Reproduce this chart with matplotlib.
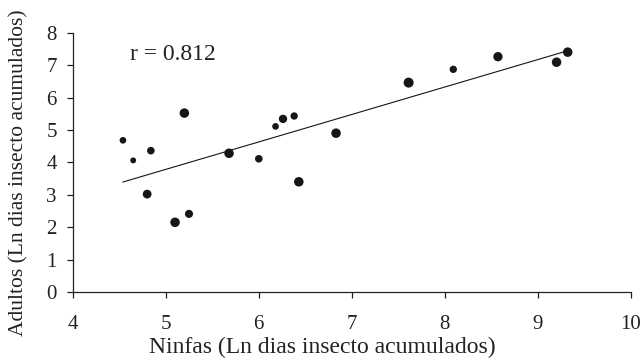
import matplotlib
matplotlib.use("Agg")
import matplotlib.pyplot as plt
import numpy as np

ninfas = [4.54, 4.65, 4.84, 4.80, 5.20, 5.10, 5.25, 5.68, 6.00, 6.18, 6.26, 6.38, 6.43, 6.83,
          7.61, 8.09, 8.57, 9.20, 9.32]
adultos = [4.68, 4.06, 4.36, 3.02, 5.52, 2.15, 2.41, 4.28, 4.11, 5.11, 5.34, 5.43, 3.40, 4.90,
           6.46, 6.87, 7.26, 7.09, 7.40]
sizes = [23, 18, 30, 40, 47, 47, 34, 47, 30, 23, 36, 28, 47, 47,
         52, 28, 45, 47, 47]
r_text = "r = 0.812"
xticks = [4, 5, 6, 7, 8, 9, 10]
yticks = [0, 1, 2, 3, 4, 5, 6, 7, 8]

plt.rcParams['font.family'] = ['Liberation Serif', 'DejaVu Serif']

W, H = 642, 361
fig = plt.figure(figsize=(W / 100, H / 100), dpi=100)
ax = fig.add_axes([72.7 / W, 1 - 292 / H, (631 - 72.7) / W, (292 - 32.7) / H])

x = np.array(ninfas)
y = np.array(adultos)
ax.scatter(x, y, s=sizes, color='#161616', edgecolors='none', zorder=3)

m, b = np.polyfit(x, y, 1)
xl = np.array([x.min(), x.max()])
ax.plot(xl, m * xl + b, color='#161616', lw=0.8)

ax.set_xlim(4, 10)
ax.set_ylim(0, 8)
ax.set_xticks(xticks)
ax.set_yticks(yticks)
ax.spines['top'].set_visible(False)
ax.spines['right'].set_visible(False)
for s in ['left', 'bottom']:
    ax.spines[s].set_linewidth(0.9)
    ax.spines[s].set_color('#222222')
ax.tick_params(direction='out', length=4.5, width=0.9, labelsize=15, colors='#222222')
ax.tick_params(axis='x', pad=12)
ax.tick_params(axis='y', pad=7)

fig.text(322 / W, 1 - 347 / H, "Ninfas (Ln dias insecto acumulados)", fontsize=17,
         ha='center', va='center', color='#222222')
fig.text(19 / W, 1 - 173 / H, "Adultos (Ln dias insecto acumulados)", fontsize=15.5,
         ha='center', va='center', rotation=90, color='#222222')
ax.text(4.616, 7.16, r_text, fontsize=17, va='baseline', ha='left', color='#222222')

fig.savefig("out.png", dpi=100)
